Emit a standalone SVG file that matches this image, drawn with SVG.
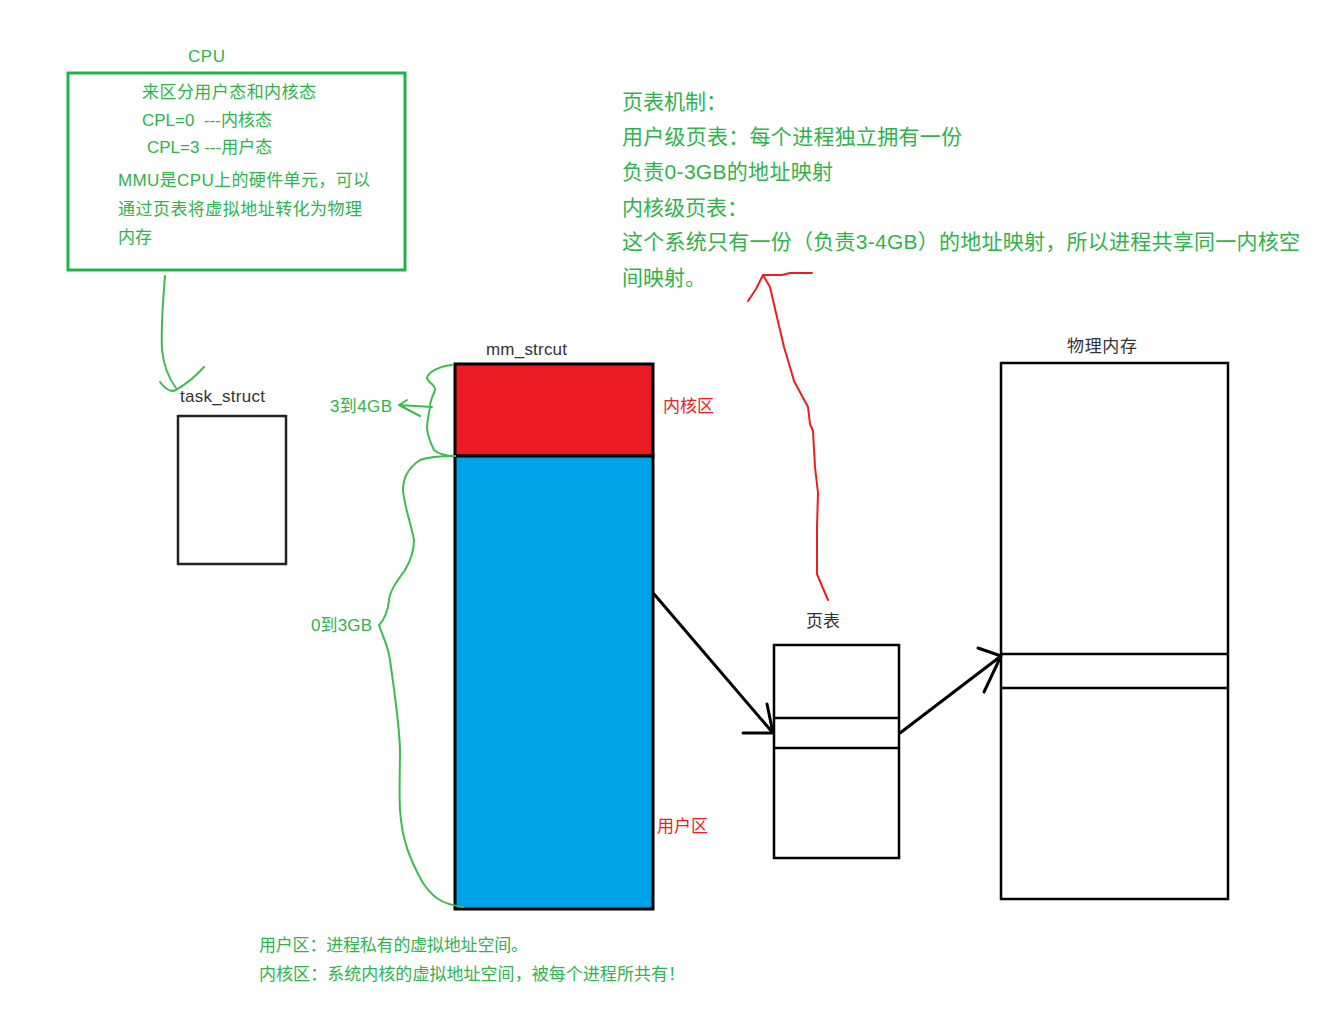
<svg xmlns="http://www.w3.org/2000/svg" width="1344" height="1016" viewBox="0 0 1344 1016">
<style>
.g{fill:#2fb34c;font-family:"Liberation Sans","Noto Sans CJK SC",sans-serif;font-size:17px}
.gb{fill:#2fb34c;font-family:"Liberation Sans","Noto Sans CJK SC",sans-serif;font-size:21px}
.k{fill:#333;font-family:"Liberation Sans","Noto Sans CJK SC",sans-serif;font-size:17px}
.r{fill:#ed1c24;font-family:"Liberation Sans","Noto Sans CJK SC",sans-serif;font-size:17px}
.gl{fill:none;stroke:#3cbb52;stroke-width:2;stroke-linecap:round;stroke-linejoin:round}
.bl{fill:none;stroke:#000;stroke-width:3;stroke-linecap:round;stroke-linejoin:round}
.rl{fill:none;stroke:#ed1c24;stroke-width:2;stroke-linecap:round;stroke-linejoin:round}
</style>
<rect width="1344" height="1016" fill="#fff"/>

<g id="cpu">
<text class="g" x="188" y="62" textLength="37">CPU</text>
<rect x="68" y="73" width="337" height="197" fill="none" stroke="#22b14c" stroke-width="3"/>
<text class="g" x="142" y="98" textLength="174">来区分用户态和内核态</text>
<text class="g" x="142" y="126" xml:space="preserve">CPL=0  ---内核态</text>
<text class="g" x="147" y="153">CPL=3 ---用户态</text>
<text class="g" x="118" y="186" textLength="252">MMU是CPU上的硬件单元，可以</text>
<text class="g" x="118" y="215" textLength="244">通过页表将虚拟地址转化为物理</text>
<text class="g" x="118" y="243">内存</text>
</g>

<g id="pagetable-notes">
<text class="gb" x="622" y="109">页表机制：</text>
<text class="gb" x="622" y="144" textLength="340">用户级页表：每个进程独立拥有一份</text>
<text class="gb" x="622" y="179" textLength="211">负责0-3GB的地址映射</text>
<text class="gb" x="622" y="215">内核级页表：</text>
<text class="gb" x="622" y="249" textLength="678">这个系统只有一份（负责3-4GB）的地址映射，所以进程共享同一内核空</text>
<text class="gb" x="622" y="285">间映射。</text>
</g>

<g id="task_struct">
<text class="k" x="180" y="402" textLength="85">task_struct</text>
<rect x="178" y="416" width="108" height="148" fill="none" stroke="#222" stroke-width="2.5"/>
</g>

<g id="mm_struct">
<text class="k" x="486" y="355" textLength="81">mm_strcut</text>
<rect x="455" y="364" width="198" height="92" fill="#ed1c24" stroke="#000" stroke-width="3"/>
<rect x="455" y="456" width="198" height="453" fill="#00a2e8" stroke="#000" stroke-width="3"/>
<text class="r" x="663" y="412">内核区</text>
<text class="r" x="657" y="832">用户区</text>
</g>

<g id="pagetable">
<text class="k" x="806" y="627" font-size="18">页表</text>
<rect x="774" y="645" width="125" height="213" fill="none" stroke="#000" stroke-width="2.5"/>
<line x1="774" y1="718" x2="899" y2="718" stroke="#000" stroke-width="2.5"/>
<line x1="774" y1="748" x2="899" y2="748" stroke="#000" stroke-width="2.5"/>
</g>

<g id="physmem">
<text class="k" x="1067" y="352" textLength="70">物理内存</text>
<rect x="1001" y="363" width="227" height="536" fill="none" stroke="#000" stroke-width="2.5"/>
<line x1="1001" y1="654" x2="1228" y2="654" stroke="#000" stroke-width="2.5"/>
<line x1="1001" y1="688" x2="1228" y2="688" stroke="#000" stroke-width="2.5"/>
</g>

<g id="bottom-notes">
<text class="g" x="259" y="951" textLength="269">用户区：进程私有的虚拟地址空间。</text>
<text class="g" x="259" y="980" textLength="426">内核区：系统内核的虚拟地址空间，被每个进程所共有！</text>
</g>

<g id="braces">
<text class="g" x="330" y="412" textLength="62">3到4GB</text>
<path class="gl" d="M452,365 C440,366 428,372 427,378 C428,383 436,385 435,390 C433,396 430,400 430,407 C429,415 427,420 427,428 C428,438 432,446 434,450 C440,455 448,456 455,456"/>
<path class="gl" d="M432,407 L399,405 M407,400 L399,405 L420,416"/>
<text class="g" x="311" y="631" textLength="61">0到3GB</text>
<path class="gl" d="M455,456 C440,456 428,457 420,460 C408,468 403,478 403,490 C404,505 410,520 414,540 C414,552 411,560 405,570 C398,580 390,590 389,600 C388,610 386,618 379,625 C382,635 388,645 390,660 C394,690 399,720 400,750 C400,770 399,790 400,810 C402,840 410,860 423,883 C432,896 440,904 463,907"/>
</g>

<g id="connectors">
<path class="gl" d="M165,276 C163,300 161,330 162,350 C164,368 170,380 176,388"/>
<path class="gl" d="M160,382 C166,390 172,392 176,390 C186,384 196,376 204,367"/>
<path class="bl" d="M654,594 L773,733 M767,704 L773,733 L743,733"/>
<path class="bl" d="M900,733 L1001,656 M978,648 L1001,656 L984,692"/>
<path class="rl" d="M828,600 L822,586 L817,574 L817,527 L818,493 L815,467 L813,431 L810,424 L808,407 L794,381 L790,367 L784,347 L776,313 L770,287 L763,275 L756,289 L748,301 M763,275 L782,275 L790,273 L812,273"/>
</g>
</svg>
